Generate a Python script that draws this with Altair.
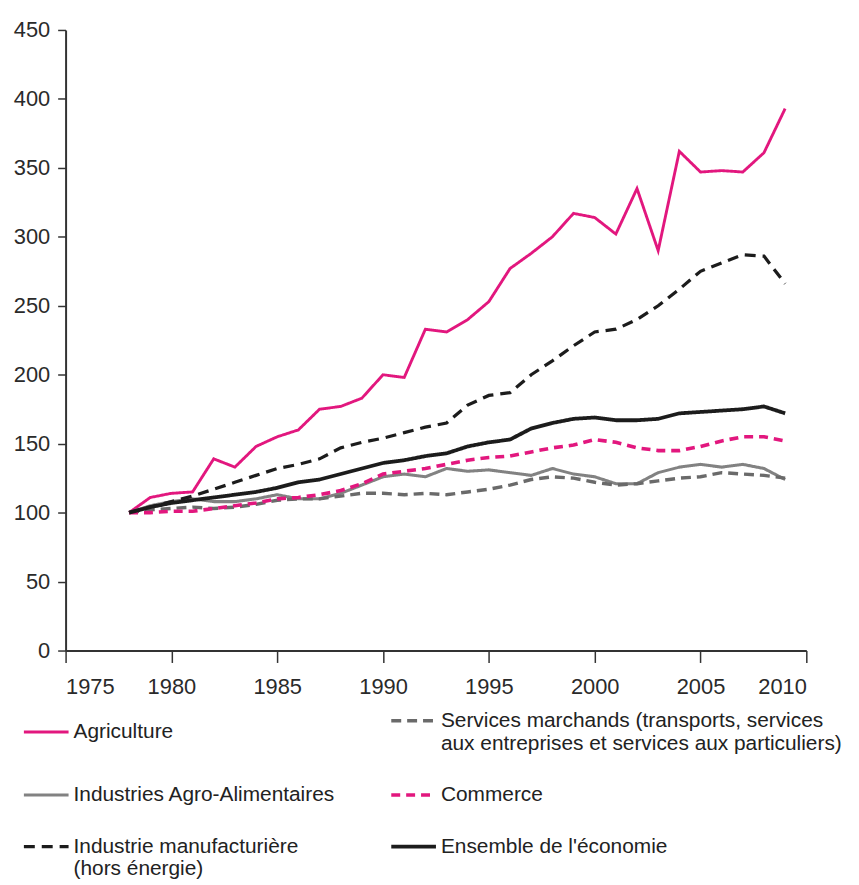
import altair as alt
import pandas as pd

years = list(range(1978, 2010))

agriculture = [100, 111, 114, 115, 139, 133, 148, 155, 160, 175, 177, 183, 200, 198, 233, 231,
               240, 253, 277, 288, 300, 317, 314, 302, 335, 290, 362, 347, 348, 347, 361, 393]
services = [100, 102, 103, 104, 103, 104, 106, 109, 110, 110, 112, 114, 114, 113, 114, 113,
            115, 117, 120, 124, 126, 125, 122, 120, 121, 123, 125, 126, 129, 128, 127, 125]
iaa = [100, 105, 108, 110, 108, 108, 110, 113, 110, 110, 114, 120, 126, 128, 126, 132,
       130, 131, 129, 127, 132, 128, 126, 121, 121, 129, 133, 135, 133, 135, 132, 124]
commerce = [100, 100, 101, 101, 103, 105, 107, 110, 111, 113, 116, 121, 128, 130, 132, 135,
            138, 140, 141, 144, 147, 149, 153, 151, 147, 145, 145, 148, 152, 155, 155, 152]
industrie = [100, 104, 108, 112, 117, 122, 127, 132, 135, 139, 147, 151, 154, 158, 162, 165,
             178, 185, 187, 200, 210, 221, 231, 233, 240, 250, 262, 275, 281, 287, 286, 266]
ensemble = [100, 104, 107, 109, 111, 113, 115, 118, 122, 124, 128, 132, 136, 138, 141, 143,
            148, 151, 153, 161, 165, 168, 169, 167, 167, 168, 172, 173, 174, 175, 177, 172]

# legend order (column-major: first column then second column)
names = [
    "Agriculture",
    "Industries Agro-Alimentaires",
    "Industrie manufacturière|  (hors énergie)",
    "Services marchands (transports, services|aux entreprises et services aux particuliers)",
    "Commerce",
    "Ensemble de l'économie",
]
series = [agriculture, iaa, industrie, services, commerce, ensemble]
colors = ["#e2177e", "#828282", "#1c1c1c", "#6a6a6a", "#e2177e", "#1c1c1c"]
dashes = [[1, 0], [1, 0], [11, 7], [10, 6], [9, 6], [1, 0]]
widths = [2.9, 3.8, 3.0, 3.8, 3.0, 2.4]

rows = []
for name, vals in zip(names, series):
    for yr, v in zip(years, vals):
        rows.append({"year": yr, "value": v, "serie": name})
df = pd.DataFrame(rows)

leg = alt.Legend(
    title=None, orient="none", legendX=-44, legendY=671, columns=2,
    columnPadding=48, rowPadding=17, symbolType="stroke", symbolSize=2025,
    labelFontSize=21, labelFont="Liberation Sans", labelColor="#222222",
    labelOffset=3, labelLimit=600,
    labelExpr="split(datum.label, '|')",
)

chart = alt.Chart(df).mark_line().encode(
    x=alt.X("year:Q", scale=alt.Scale(domain=[1975, 2010], nice=False, zero=False),
            axis=alt.Axis(values=[1975, 1980, 1985, 1990, 1995, 2000, 2005, 2010],
                          format="d", title=None, grid=False, tickSize=12,
                          labelPadding=14)),
    y=alt.Y("value:Q", scale=alt.Scale(domain=[0, 450], nice=False),
            axis=alt.Axis(values=list(range(0, 451, 50)), title=None, grid=False,
                          tickSize=8, labelPadding=8)),
    color=alt.Color("serie:N", scale=alt.Scale(domain=names, range=colors), legend=leg),
    strokeDash=alt.StrokeDash("serie:N", scale=alt.Scale(domain=names, range=dashes), legend=leg),
    strokeWidth=alt.StrokeWidth("serie:N", scale=alt.Scale(domain=names, range=widths), legend=leg),
).properties(
    width=746, height=625,
    background="white",
    autosize=alt.AutoSizeParams(type="none"),
    padding={"left": 58, "top": 19, "right": 45, "bottom": 232},
).configure_axis(
    labelFont="Liberation Sans", labelFontSize=22, labelColor="#2a2a2a",
    domainColor="#333333", domainWidth=2, tickColor="#333333", tickWidth=1.5,
).configure_view(stroke=None)

chart.save("out.html", embed_options={"renderer": "svg", "actions": False})
